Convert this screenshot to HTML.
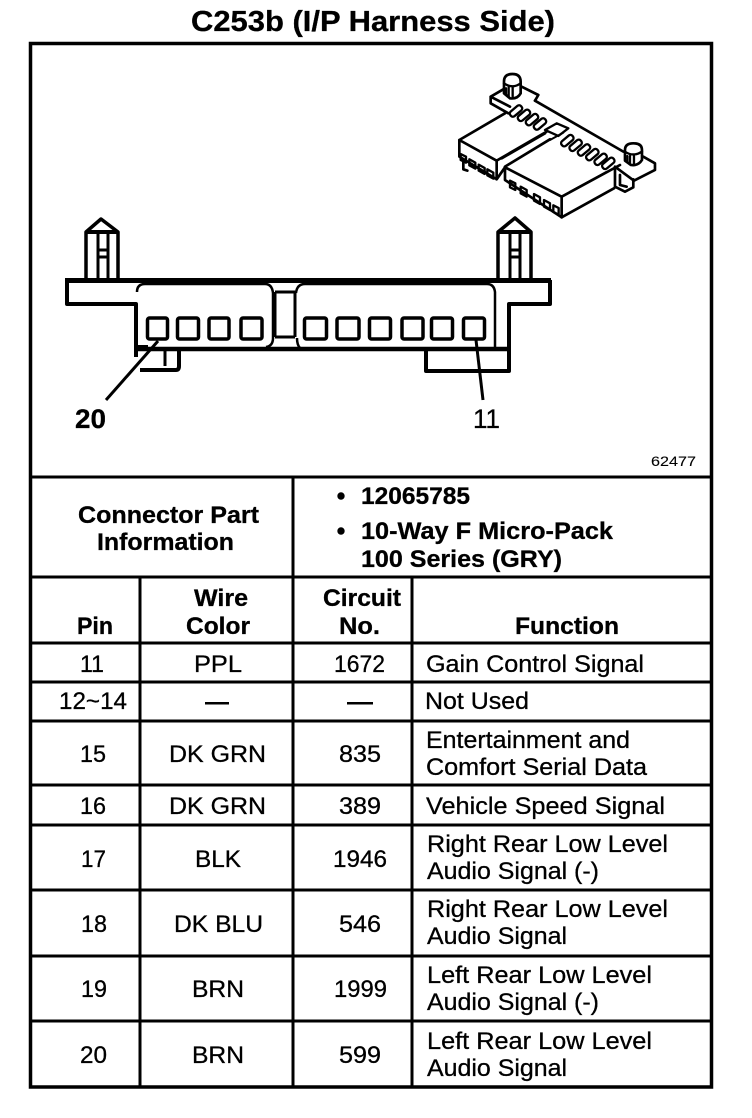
<!DOCTYPE html>
<html>
<head>
<meta charset="utf-8">
<style>
html,body{margin:0;padding:0;background:#fff;}
svg{display:block;}
text{font-family:"Liberation Sans",sans-serif;fill:#000;font-size:24px;stroke:#000;stroke-width:.3px;}
.b{font-weight:bold;stroke-width:.3px;}
</style>
</head>
<body>
<svg width="752" height="1118" viewBox="0 0 752 1118" xmlns="http://www.w3.org/2000/svg">
<rect width="752" height="1118" fill="#fff"/>

<text class="b" x="191" y="31" style="font-size:29px" textLength="364" lengthAdjust="spacingAndGlyphs">C253b (I/P Harness Side)</text>

<!-- table frame -->
<g stroke="#000" fill="none">
<rect x="30.5" y="43.5" width="681" height="1043.5" stroke-width="3.5"/>
<g stroke-width="3">
<line x1="30" y1="477" x2="712" y2="477"/>
<line x1="30" y1="577" x2="712" y2="577"/>
<line x1="30" y1="643" x2="712" y2="643"/>
<line x1="30" y1="682" x2="712" y2="682"/>
<line x1="30" y1="721" x2="712" y2="721"/>
<line x1="30" y1="785" x2="712" y2="785"/>
<line x1="30" y1="825" x2="712" y2="825"/>
<line x1="30" y1="890" x2="712" y2="890"/>
<line x1="30" y1="956" x2="712" y2="956"/>
<line x1="30" y1="1021" x2="712" y2="1021"/>
<line x1="140" y1="577" x2="140" y2="1087"/>
<line x1="293" y1="477" x2="293" y2="1087"/>
<line x1="412" y1="577" x2="412" y2="1087"/>
</g>
</g>

<!-- front view connector -->
<g stroke="#000" fill="none" stroke-linejoin="round">
<line x1="65" y1="280.5" x2="551" y2="280.5" stroke-width="5"/>
<path d="M67,280 V304 H136 V357" stroke-width="4"/>
<path d="M550,280 V304 H509 V371 H426 V349" stroke-width="4"/>
<line x1="138" y1="349" x2="509" y2="349" stroke-width="4.5"/>
<path d="M136,347 H148 M140,370 H176 Q179,370 179,366 V349" stroke-width="4"/>
<path d="M165,350 V366" stroke-width="3"/>
<path d="M137,292 Q137,284 145,284 H265 Q272,284 273,293 V338 Q273,346 266,347" stroke-width="2.5"/>
<path d="M296,293 Q297,284 305,284 H487 Q494,284 495,292 V347" stroke-width="2.5"/>
<path d="M297,338 Q297,345 300,348" stroke-width="2.5"/>
<path d="M275,292 H295 M275,337 H295 M275,292 V337 M295,292 V337" stroke-width="3"/>
<g stroke-width="3.5">
<rect x="147.5" y="318" width="20" height="21" rx="2"/>
<rect x="177.5" y="318" width="21" height="21" rx="2"/>
<rect x="209" y="318" width="20" height="21" rx="2"/>
<rect x="241" y="318" width="21" height="21" rx="2"/>
<rect x="304.5" y="318" width="22" height="21" rx="2"/>
<rect x="337" y="318" width="22" height="21" rx="2"/>
<rect x="369.5" y="318" width="21" height="21" rx="2"/>
<rect x="402" y="318" width="21" height="21" rx="2"/>
<rect x="431.5" y="318" width="21" height="21" rx="2"/>
<rect x="463.5" y="318" width="21" height="21" rx="2"/>
</g>
<g stroke-width="3.5">
<path d="M86,279 V232 L101,219 L118,232 V279"/>
<path d="M86,232 H118" stroke-width="4"/>
<path d="M98,233 V279 M108,233 V279 M98,250 H108 M98,257 H108" stroke-width="3"/>
<path d="M498,279 V232 L515,218 L531,232 V279"/>
<path d="M498,232 H531" stroke-width="4"/>
<path d="M510,233 V279 M520,233 V279 M510,250 H520 M510,257 H520" stroke-width="3"/>
</g>
<line x1="158" y1="341" x2="106" y2="400" stroke-width="3"/>
<line x1="476" y1="340" x2="483" y2="400" stroke-width="3"/>
</g>
<text class="b" x="75" y="428" style="font-size:27px" textLength="31" lengthAdjust="spacingAndGlyphs">20</text>
<text x="473" y="428" style="font-size:27px" textLength="27" lengthAdjust="spacingAndGlyphs">11</text>
<text x="651" y="466" style="font-size:14px;stroke-width:.1px" textLength="45" lengthAdjust="spacingAndGlyphs">62477</text>

<!-- isometric view -->
<g transform="translate(430,50) scale(0.3333)" stroke="#000" fill="none" stroke-width="8" stroke-linejoin="round" stroke-linecap="round">
<!-- left flange -->
<path d="M182,140 L220,118 M275,110 L325,135 L315,152 M182,140 V160 L235,190 M182,140 L240,170"/>
<path d="M315,152 L580,305"/>
<!-- left housing -->
<path d="M88,270 L225,190 M88,270 L200,332 L350,245 M88,270 V320 L195,385 M200,332 V388 L225,352"/>
<path d="M215,325 L345,250 M225,350 L360,268"/>
<path d="M100,335 V358 L112,362"/>
<g stroke-width="7">
<path d="M92,312 L108,320 V338 L92,330 Z"/>
<path d="M118,328 L136,338 V356 L118,346 Z"/>
<path d="M146,344 L164,354 V372 L146,362 Z"/>
<path d="M172,358 L190,368 V386 L172,376 Z"/>
</g>
<!-- right housing -->
<path d="M225,352 L395,440 V502 L225,390 V352"/>
<path d="M395,440 L570,345 M395,502 L552,415"/>
<path d="M420,425 L530,365" stroke-width="5"/>
<g stroke-width="7">
<path d="M240,392 L256,400 V420 L240,412 Z"/>
<path d="M272,410 L290,420 V440 L272,430 Z"/>
<path d="M312,432 L330,442 V462 L312,452 Z"/>
<path d="M342,450 L360,460 V480 L342,470 Z"/>
<path d="M370,466 L386,474 V494 L370,486 Z"/>
</g>
<!-- comb pills -->
<g stroke-width="7" fill="#fff">
<rect x="-9" y="-21" width="18" height="42" rx="8" transform="translate(258,183) rotate(50)"/>
<rect x="-9" y="-21" width="18" height="42" rx="8" transform="translate(282,196) rotate(50)"/>
<rect x="-9" y="-21" width="18" height="42" rx="8" transform="translate(306,209) rotate(50)"/>
<rect x="-9" y="-21" width="18" height="42" rx="8" transform="translate(330,222) rotate(50)"/>
<rect x="-9" y="-21" width="18" height="42" rx="8" transform="translate(412,272) rotate(50)"/>
<rect x="-9" y="-21" width="18" height="42" rx="8" transform="translate(437,286) rotate(50)"/>
<rect x="-9" y="-21" width="18" height="42" rx="8" transform="translate(462,300) rotate(50)"/>
<rect x="-9" y="-21" width="18" height="42" rx="8" transform="translate(487,314) rotate(50)"/>
<rect x="-9" y="-21" width="18" height="42" rx="8" transform="translate(512,328) rotate(50)"/>
<rect x="-9" y="-21" width="18" height="42" rx="8" transform="translate(535,340) rotate(50)"/>
</g>
<!-- centre box -->
<path d="M345,240 L380,220 L415,235 L385,258 Z" fill="#fff" stroke-width="7"/>
<path d="M360,270 L400,248" stroke-width="6"/>
<!-- right flange -->
<path d="M640,320 L675,340 V360 L612,392 L555,350"/>
<path d="M555,355 V412 M555,410 L585,425 L610,412 V388 M570,375 V405 L590,410"/>
<!-- posts -->
<path d="M222,95 Q222,72 247,72 Q272,72 272,95 V130 Q262,148 240,145 L222,130 Z" fill="#fff"/>
<path d="M222,100 Q247,118 272,100 M236,112 V140 M248,112 V140 M228,115 V135" stroke-width="7"/>
<path d="M585,300 Q585,280 610,280 Q636,280 636,300 V330 Q625,348 603,345 L585,332 Z" fill="#fff"/>
<path d="M585,305 Q610,322 636,305 M600,318 V342 M612,318 V342 M592,318 V336" stroke-width="7"/>
</g>

<!-- connector info -->
<text class="b" x="78" y="523" textLength="181" lengthAdjust="spacingAndGlyphs">Connector Part</text>
<text class="b" x="97" y="550" textLength="137" lengthAdjust="spacingAndGlyphs">Information</text>
<circle cx="341" cy="496" r="3.7" fill="#000"/>
<circle cx="341" cy="531" r="3.7" fill="#000"/>
<text class="b" x="361" y="504" textLength="109" lengthAdjust="spacingAndGlyphs">12065785</text>
<text class="b" x="361" y="539" textLength="252" lengthAdjust="spacingAndGlyphs">10-Way F Micro-Pack</text>
<text class="b" x="361" y="567" textLength="201" lengthAdjust="spacingAndGlyphs">100 Series (GRY)</text>

<!-- headers -->
<text class="b" x="77" y="634" textLength="36" lengthAdjust="spacingAndGlyphs">Pin</text>
<text class="b" x="194" y="606" textLength="54" lengthAdjust="spacingAndGlyphs">Wire</text>
<text class="b" x="186" y="634" textLength="64" lengthAdjust="spacingAndGlyphs">Color</text>
<text class="b" x="323" y="606" textLength="78" lengthAdjust="spacingAndGlyphs">Circuit</text>
<text class="b" x="339" y="634" textLength="41" lengthAdjust="spacingAndGlyphs">No.</text>
<text class="b" x="515" y="634" textLength="104" lengthAdjust="spacingAndGlyphs">Function</text>

<!-- rows -->
<text x="80" y="672" textLength="24" lengthAdjust="spacingAndGlyphs">11</text>
<text x="194" y="672" textLength="48" lengthAdjust="spacingAndGlyphs">PPL</text>
<text x="334" y="672" textLength="51" lengthAdjust="spacingAndGlyphs">1672</text>
<text x="426" y="672" textLength="218" lengthAdjust="spacingAndGlyphs">Gain Control Signal</text>

<text x="59" y="709" textLength="68" lengthAdjust="spacingAndGlyphs">12~14</text>
<rect x="205" y="702" width="24" height="2.5" fill="#000"/>
<rect x="347" y="702" width="26" height="2.5" fill="#000"/>
<text x="425" y="709" textLength="104" lengthAdjust="spacingAndGlyphs">Not Used</text>

<text x="80" y="762" textLength="26" lengthAdjust="spacingAndGlyphs">15</text>
<text x="169" y="762" textLength="97" lengthAdjust="spacingAndGlyphs">DK GRN</text>
<text x="339" y="762" textLength="42" lengthAdjust="spacingAndGlyphs">835</text>
<text x="426" y="748" textLength="204" lengthAdjust="spacingAndGlyphs">Entertainment and</text>
<text x="426" y="775" textLength="221" lengthAdjust="spacingAndGlyphs">Comfort Serial Data</text>

<text x="80" y="814" textLength="26" lengthAdjust="spacingAndGlyphs">16</text>
<text x="169" y="814" textLength="97" lengthAdjust="spacingAndGlyphs">DK GRN</text>
<text x="339" y="814" textLength="42" lengthAdjust="spacingAndGlyphs">389</text>
<text x="426" y="814" textLength="239" lengthAdjust="spacingAndGlyphs">Vehicle Speed Signal</text>

<text x="81" y="867" textLength="25" lengthAdjust="spacingAndGlyphs">17</text>
<text x="195" y="867" textLength="46" lengthAdjust="spacingAndGlyphs">BLK</text>
<text x="333" y="867" textLength="54" lengthAdjust="spacingAndGlyphs">1946</text>
<text x="427" y="852" textLength="241" lengthAdjust="spacingAndGlyphs">Right Rear Low Level</text>
<text x="427" y="879" textLength="172" lengthAdjust="spacingAndGlyphs">Audio Signal (-)</text>

<text x="81" y="932" textLength="26" lengthAdjust="spacingAndGlyphs">18</text>
<text x="174" y="932" textLength="89" lengthAdjust="spacingAndGlyphs">DK BLU</text>
<text x="339" y="932" textLength="42" lengthAdjust="spacingAndGlyphs">546</text>
<text x="427" y="917" textLength="241" lengthAdjust="spacingAndGlyphs">Right Rear Low Level</text>
<text x="427" y="944" textLength="140" lengthAdjust="spacingAndGlyphs">Audio Signal</text>

<text x="81" y="997" textLength="26" lengthAdjust="spacingAndGlyphs">19</text>
<text x="192" y="997" textLength="52" lengthAdjust="spacingAndGlyphs">BRN</text>
<text x="334" y="997" textLength="53" lengthAdjust="spacingAndGlyphs">1999</text>
<text x="427" y="983" textLength="225" lengthAdjust="spacingAndGlyphs">Left Rear Low Level</text>
<text x="427" y="1010" textLength="172" lengthAdjust="spacingAndGlyphs">Audio Signal (-)</text>

<text x="80" y="1063" textLength="27" lengthAdjust="spacingAndGlyphs">20</text>
<text x="192" y="1063" textLength="52" lengthAdjust="spacingAndGlyphs">BRN</text>
<text x="339" y="1063" textLength="42" lengthAdjust="spacingAndGlyphs">599</text>
<text x="427" y="1049" textLength="225" lengthAdjust="spacingAndGlyphs">Left Rear Low Level</text>
<text x="427" y="1076" textLength="140" lengthAdjust="spacingAndGlyphs">Audio Signal</text>
</svg>
</body>
</html>
